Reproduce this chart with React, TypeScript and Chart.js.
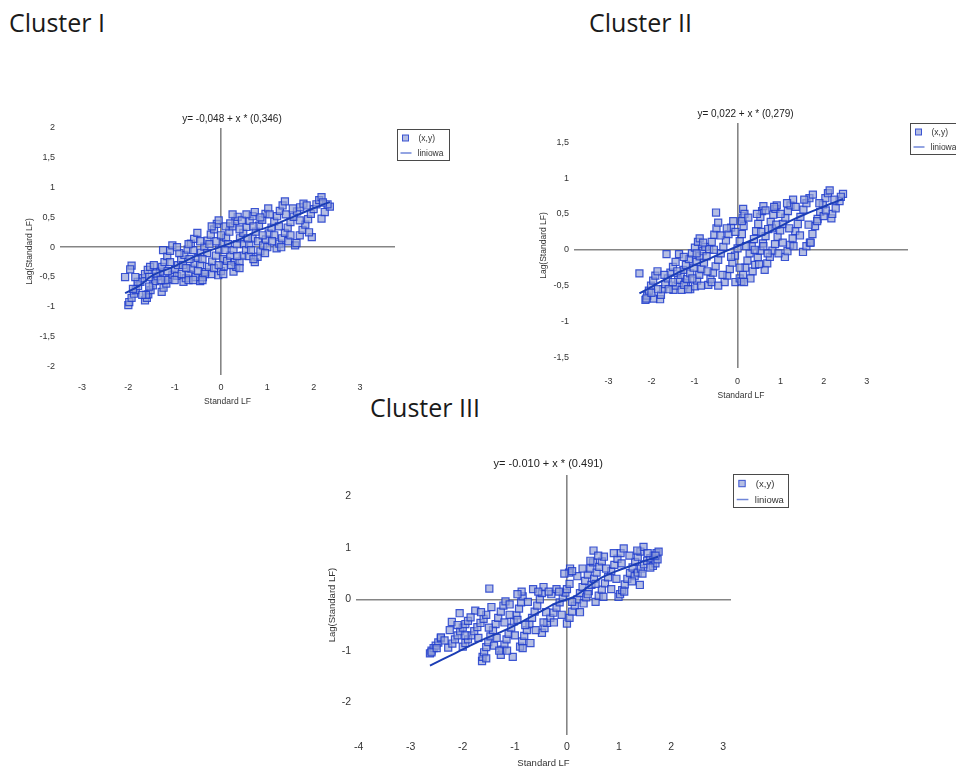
import React, { useEffect, useRef } from "react";
import { Chart, registerables } from "chart.js";

Chart.register(...registerables);

type P = [number, number];

// ---------------- DATA ----------------
const SERIES_LABELS = ["(x,y)", "liniowa"];
const X_TITLE = "Standard LF";
const Y_TITLE = "Lag(Standard LF)";
const HEADINGS = ["Cluster I", "Cluster II", "Cluster III"];

const CLUSTER1_EQUATION = "y= -0,048 + x * (0,346)";
const CLUSTER1_X_TICKS = [-3, -2, -1, 0, 1, 2, 3];
const CLUSTER1_Y_TICKS = [-2, -1.5, -1, -0.5, 0, 0.5, 1, 1.5, 2];
const CLUSTER1_POINTS: P[] = [
  [-2.07, -0.5], [-1.93, -0.31], [-1.96, -0.37],
  [-2.0, -0.97], [-1.98, -0.92], [-1.93, -0.85], [-1.88, -0.78], [-1.84, -0.72], [-1.79, -0.65], [-1.74, -0.58], [-1.69, -0.52], [-1.64, -0.45], [-1.58, -0.38], [-1.53, -0.33], [-1.9, -0.7], [-1.8, -0.58],
  [-1.64, -0.89], [-1.6, -0.85], [-1.57, -0.79], [-1.52, -0.72], [-1.47, -0.64], [-1.42, -0.57], [-1.37, -0.49], [-1.32, -0.41], [-1.27, -0.33], [-1.22, -0.25], [-1.16, -0.15], [-1.1, -0.06], [-1.05, 0.03], [-1.62, -0.8], [-1.55, -0.66], [-1.4, -0.44],
  [-1.28, -0.75], [-1.24, -0.68], [-1.18, -0.61], [-1.12, -0.54], [-1.05, -0.46], [-0.99, -0.38], [-0.93, -0.3], [-0.86, -0.21], [-0.79, -0.13], [-0.72, -0.04], [-0.65, 0.06], [-0.58, 0.14], [-0.51, 0.24], [-1.2, -0.55], [-0.95, -0.48], [-0.82, -0.3], [-0.6, -0.05],
  [-0.81, -0.58], [-0.76, -0.52], [-0.7, -0.45], [-0.64, -0.36], [-0.57, -0.27], [-0.5, -0.18], [-0.43, -0.09], [-0.36, 0.01], [-0.29, 0.11], [-0.22, 0.21], [-0.15, 0.3], [-0.09, 0.39], [-0.05, 0.45], [-0.7, -0.55], [-0.45, -0.3], [-0.3, -0.1],
  [-0.45, -0.57], [-0.39, -0.5], [-0.33, -0.42], [-0.26, -0.33], [-0.19, -0.24], [-0.11, -0.14], [-0.04, -0.04], [0.03, 0.06], [0.11, 0.16], [0.18, 0.26], [0.25, 0.35], [0.31, 0.44], [0.36, 0.51], [-0.2, -0.45], [0.05, -0.2], [0.15, 0.05],
  [-0.06, -0.47], [0.0, -0.4], [0.06, -0.32], [0.13, -0.23], [0.2, -0.14], [0.27, -0.05], [0.34, 0.05], [0.41, 0.15], [0.48, 0.24], [0.55, 0.34], [0.62, 0.44], [0.68, 0.52], [0.73, 0.59], [0.05, -0.45], [0.3, -0.25], [0.5, 0.05],
  [0.27, -0.41], [0.33, -0.33], [0.4, -0.24], [0.47, -0.14], [0.54, -0.05], [0.61, 0.05], [0.68, 0.15], [0.75, 0.26], [0.82, 0.36], [0.89, 0.46], [0.96, 0.56], [1.02, 0.65], [0.6, -0.15], [0.8, 0.1],
  [0.73, -0.25], [0.79, -0.16], [0.85, -0.07], [0.91, 0.03], [0.97, 0.13], [1.03, 0.23], [1.09, 0.33], [1.15, 0.43], [1.21, 0.52], [1.27, 0.61], [1.33, 0.7], [1.38, 0.77], [1.0, 0.0], [1.15, 0.2],
  [1.2, -0.02], [1.26, 0.06], [1.32, 0.15], [1.38, 0.24], [1.44, 0.33], [1.5, 0.42], [1.57, 0.51], [1.64, 0.6], [1.71, 0.67], [1.78, 0.73], [1.45, 0.1],
  [1.6, 0.03], [1.63, 0.07], [1.7, 0.2], [1.76, 0.29], [1.82, 0.38], [1.88, 0.47], [1.94, 0.56], [2.0, 0.64], [2.06, 0.72], [2.12, 0.79], [2.17, 0.84],
  [1.96, 0.17], [2.17, 0.48], [2.24, 0.59], [2.35, 0.68], [2.3, 0.72], [2.2, 0.75],
  [-1.45, -0.3], [-1.3, -0.55], [-1.15, -0.4], [-1.0, -0.55], [-0.9, -0.1], [-0.85, -0.45], [-0.75, -0.35], [-0.68, -0.2], [-0.55, -0.5], [-0.5, -0.4], [-0.4, -0.2], [-0.35, -0.45], [-0.25, 0.05], [-0.15, -0.35], [-0.1, 0.1], [0.0, 0.2], [0.08, -0.05], [0.1, 0.35], [0.2, 0.4], [0.22, -0.3], [0.35, -0.15], [0.4, 0.3], [0.45, 0.45], [0.55, 0.55], [0.58, 0.15], [0.65, -0.05], [0.7, 0.35], [0.85, 0.5], [0.9, 0.2], [0.95, -0.1], [1.05, 0.55], [1.1, 0.1], [1.25, 0.35], [1.3, 0.0], [1.4, 0.55], [1.5, 0.2], [1.55, 0.65], [1.7, 0.45], [1.85, 0.7], [1.9, 0.25], [-1.7, -0.8], [-1.55, -0.5], [-1.85, -0.5], [-1.25, -0.05], [-1.1, -0.25], [-0.95, 0.0], [-0.7, 0.05], [-0.45, 0.1], [-0.2, 0.35], [0.25, 0.55], [-0.6, -0.55], [-0.4, -0.55], [-0.05, -0.3], [0.4, -0.35], [0.7, -0.2],
];
const CLUSTER1_LINE: P[] = [
  [-2.07, -0.77], [-1.75, -0.64], [-1.53, -0.5], [-1.39, -0.44], [-1.03, -0.33], [-0.74, -0.22], [-0.4, -0.1], [0.0, 0.01], [0.4, 0.13], [0.77, 0.27], [1.1, 0.36], [1.56, 0.51], [1.99, 0.65], [2.35, 0.76],
];

const CLUSTER2_EQUATION = "y= 0,022 + x * (0,279)";
const CLUSTER2_X_TICKS = [-3, -2, -1, 0, 1, 2, 3];
const CLUSTER2_Y_TICKS = [-1.5, -1, -0.5, 0, 0.5, 1, 1.5];
const CLUSTER2_POINTS: P[] = [
  [-2.28, -0.33], [-1.65, -0.06], [-1.36, -0.06], [-0.5, 0.52], [-1.95, -0.68], [-1.1, -0.55], [-1.2, -0.46],
  [-2.14, -0.7], [-2.1, -0.64], [-2.06, -0.57], [-2.01, -0.5], [-1.96, -0.43], [-1.91, -0.36], [-1.86, -0.3], [-2.12, -0.68],
  [-1.8, -0.69], [-1.78, -0.63], [-1.73, -0.55], [-1.68, -0.48], [-1.62, -0.4], [-1.56, -0.32], [-1.5, -0.24], [-1.44, -0.17],
  [-1.49, -0.56], [-1.44, -0.5], [-1.38, -0.42], [-1.32, -0.35], [-1.26, -0.28], [-1.2, -0.21], [-1.13, -0.13], [-1.06, -0.05], [-0.99, 0.03], [-0.92, 0.11], [-0.88, 0.16],
  [-1.3, -0.56], [-1.24, -0.49], [-1.17, -0.41], [-1.1, -0.33], [-1.02, -0.25], [-0.95, -0.17], [-0.88, -0.09], [-0.81, -0.02], [-0.75, 0.04],
  [-0.99, -0.51], [-0.94, -0.43], [-0.89, -0.35], [-0.84, -0.27], [-0.78, -0.18], [-0.72, -0.09], [-0.66, 0.01], [-0.6, 0.11], [-0.54, 0.21], [-0.49, 0.3], [-0.45, 0.38],
  [-0.68, -0.49], [-0.63, -0.41], [-0.57, -0.32], [-0.51, -0.23], [-0.45, -0.14], [-0.39, -0.05], [-0.33, 0.04], [-0.27, 0.13], [-0.21, 0.22], [-0.15, 0.31], [-0.1, 0.4],
  [-0.3, -0.45], [-0.24, -0.36], [-0.18, -0.27], [-0.12, -0.18], [-0.06, -0.08], [0.0, 0.02], [0.05, 0.12], [0.1, 0.22], [0.14, 0.33], [0.12, 0.45], [0.13, 0.57], [0.16, 0.5], [-0.05, -0.45], [0.05, -0.4],
  [0.09, -0.44], [0.13, -0.35], [0.18, -0.25], [0.23, -0.15], [0.28, -0.05], [0.33, 0.05], [0.38, 0.15], [0.43, 0.26], [0.48, 0.36], [0.53, 0.46], [0.57, 0.54], [0.6, 0.61],
  [0.35, -0.3], [0.41, -0.21], [0.47, -0.11], [0.53, -0.01], [0.59, 0.09], [0.65, 0.19], [0.71, 0.29], [0.77, 0.39], [0.83, 0.49], [0.88, 0.57], [0.91, 0.62],
  [0.63, -0.28], [0.69, -0.19], [0.75, -0.1], [0.81, -0.01], [0.87, 0.08], [0.93, 0.18], [0.99, 0.27], [1.05, 0.36], [1.11, 0.45], [1.17, 0.54], [1.23, 0.62], [1.29, 0.7],
  [1.1, -0.1], [1.16, -0.02], [1.22, 0.07], [1.28, 0.16], [1.34, 0.26], [1.4, 0.36], [1.46, 0.46], [1.53, 0.56], [1.6, 0.65], [1.67, 0.72], [1.75, 0.77],
  [1.52, -0.03], [1.6, 0.05], [1.68, 0.1], [1.74, 0.22], [1.8, 0.33], [1.86, 0.43], [1.92, 0.53], [1.98, 0.63], [2.04, 0.72], [2.1, 0.79], [2.14, 0.83],
  [2.18, 0.44], [2.2, 0.5], [2.28, 0.58], [2.37, 0.68], [2.45, 0.78], [2.4, 0.74], [1.85, 0.4], [2.0, 0.47],
  [-2.0, -0.6], [-1.7, -0.35], [-1.6, -0.55], [-1.4, -0.3], [-1.25, -0.1], [-1.15, -0.55], [-1.05, -0.4], [-0.95, -0.05], [-0.85, -0.5], [-0.8, 0.1], [-0.7, -0.3], [-0.6, -0.45], [-0.55, 0.0], [-0.4, 0.2], [-0.35, -0.35], [-0.25, 0.3], [-0.15, -0.1], [-0.05, 0.25], [0.05, -0.25], [0.1, 0.4], [0.2, 0.05], [0.25, 0.45], [0.3, -0.4], [0.4, 0.0], [0.45, 0.5], [0.5, -0.2], [0.55, 0.25], [0.65, 0.55], [0.7, -0.05], [0.8, 0.3], [0.85, 0.6], [0.95, -0.05], [1.0, 0.5], [1.05, 0.1], [1.15, 0.65], [1.2, 0.3], [1.3, 0.05], [1.35, 0.6], [1.45, 0.2], [1.55, 0.7], [1.65, 0.35], [1.7, 0.1], [1.9, 0.65], [2.05, 0.55], [2.25, 0.7], [-1.85, -0.55], [-1.5, -0.45], [-0.45, -0.5], [0.15, -0.45], [0.6, 0.05], [0.9, 0.35],
];
const CLUSTER2_LINE: P[] = [
  [-2.28, -0.61], [-1.95, -0.5], [-1.49, -0.35], [-1.1, -0.24], [-0.72, -0.14], [-0.35, -0.04], [0.0, 0.05], [0.35, 0.14], [0.67, 0.23], [1.0, 0.33], [1.29, 0.42], [1.58, 0.5], [1.83, 0.56], [2.15, 0.64], [2.45, 0.71],
];

const CLUSTER3_EQUATION = "y= -0.010 + x * (0.491)";
const CLUSTER3_X_TICKS = [-4, -3, -2, -1, 0, 1, 2, 3];
const CLUSTER3_Y_TICKS = [-2, -1, 0, 1, 2];
const CLUSTER3_POINTS: P[] = [
  [-2.63, -1.05], [-2.6, -1.0], [-2.56, -0.95], [-2.52, -0.9], [-2.47, -0.84], [-2.42, -0.76], [-2.6, -1.03],
  [-2.28, -0.94], [-2.2, -0.86], [-2.15, -0.78], [-2.1, -0.7], [-2.05, -0.62], [-2.0, -0.55], [-1.95, -0.48], [-1.9, -0.42],
  [-2.0, -0.92], [-1.95, -0.85], [-1.9, -0.78], [-1.84, -0.7], [-1.78, -0.62], [-1.72, -0.54], [-1.66, -0.46], [-1.6, -0.38], [-1.55, -0.3],
  [-1.63, -1.2], [-1.62, -1.12], [-1.59, -1.03], [-1.55, -0.93], [-1.51, -0.83], [-1.47, -0.72], [-1.42, -0.6], [-1.37, -0.48], [-1.32, -0.36], [-1.27, -0.24], [-1.22, -0.12], [-1.18, -0.04],
  [-1.27, -1.08], [-1.24, -0.98], [-1.2, -0.88], [-1.16, -0.78], [-1.12, -0.67], [-1.07, -0.55], [-1.02, -0.43], [-0.97, -0.31], [-0.92, -0.18], [-0.88, -0.06], [-0.85, 0.06],
  [-0.9, -0.92], [-0.86, -0.82], [-0.82, -0.71], [-0.77, -0.6], [-0.72, -0.48], [-0.67, -0.36], [-0.62, -0.24], [-0.57, -0.12], [-0.52, 0.0], [-0.48, 0.12], [-0.45, 0.24],
  [-0.48, -0.65], [-0.43, -0.56], [-0.38, -0.46], [-0.32, -0.36], [-0.26, -0.26], [-0.2, -0.16], [-0.14, -0.06], [-0.08, 0.04], [-0.03, 0.13], [0.0, 0.2],
  [0.0, -0.47], [0.05, -0.36], [0.1, -0.24], [0.15, -0.12], [0.2, 0.0], [0.25, 0.12], [0.3, 0.24], [0.35, 0.36], [0.4, 0.48], [0.45, 0.6], [0.5, 0.72],
  [0.32, -0.08], [0.37, 0.04], [0.42, 0.16], [0.47, 0.28], [0.52, 0.4], [0.57, 0.52], [0.62, 0.63], [0.67, 0.74], [0.71, 0.83],
  [0.55, -0.05], [0.61, 0.07], [0.67, 0.19], [0.73, 0.31], [0.79, 0.43], [0.85, 0.55], [0.91, 0.67], [0.97, 0.79], [1.03, 0.9], [1.09, 0.99],
  [0.99, 0.05], [1.02, 0.1], [1.06, 0.18], [1.11, 0.29], [1.16, 0.4], [1.21, 0.51], [1.26, 0.62], [1.31, 0.73], [1.36, 0.83], [1.41, 0.93], [1.47, 1.02],
  [1.3, 0.45], [1.36, 0.52], [1.42, 0.6], [1.48, 0.68], [1.54, 0.75], [1.6, 0.8], [1.66, 0.85], [1.72, 0.9], [1.76, 0.93],
  [-1.49, 0.21], [-1.76, -0.22], [-2.06, -0.27], [-2.21, -0.44], [-2.42, -0.74], [-1.04, -1.12], [0.51, 0.95], [1.4, 0.28], [0.06, 0.6], [0.04, 0.52], [-0.87, 0.15], [-0.65, 0.2], [-0.3, 0.1], [-0.2, 0.2], [1.65, 0.65], [1.7, 0.7], [1.74, 0.78], [-1.1, -0.3], [-0.95, -0.4], [-1.4, -0.9],
  [-2.5, -0.95], [-2.35, -0.8], [-2.25, -0.6], [-2.1, -0.5], [-1.95, -0.7], [-1.85, -0.35], [-1.7, -0.75], [-1.65, -0.25], [-1.5, -0.55], [-1.45, -0.15], [-1.35, -0.75], [-1.3, -1.0], [-1.2, -0.45], [-1.1, -0.1], [-1.0, -0.7], [-0.95, 0.1], [-0.8, -0.5], [-0.75, -0.05], [-0.7, -0.85], [-0.6, -0.6], [-0.55, 0.15], [-0.4, -0.25], [-0.35, 0.15], [-0.25, -0.45], [-0.15, 0.15], [-0.1, -0.3], [0.05, 0.3], [0.1, -0.05], [0.2, 0.45], [0.25, -0.25], [0.3, 0.6], [0.4, 0.1], [0.45, 0.75], [0.55, 0.3], [0.6, 0.85], [0.7, 0.05], [0.75, 0.6], [0.85, 0.2], [0.9, 0.9], [0.95, 0.4], [1.05, 0.7], [1.1, 0.15], [1.2, 0.85], [1.25, 0.35], [1.35, 0.95], [1.45, 0.5], [1.55, 0.9], [1.6, 0.62], [1.7, 0.85], [-1.55, -1.15], [-1.15, -1.0], [-0.85, -0.95], [-0.45, -0.45], [0.1, 0.55], [-0.05, 0.5],
];
const CLUSTER3_LINE: P[] = [
  [-2.63, -1.29], [-2.15, -1.05], [-1.63, -0.79], [-1.19, -0.6], [-0.8, -0.4], [-0.51, -0.24], [-0.2, -0.07], [0.13, 0.05], [0.4, 0.24], [0.64, 0.41], [0.95, 0.55], [1.28, 0.67], [1.5, 0.75], [1.75, 0.83],
];

// ---------------- STYLE / LAYOUT ----------------
const AXIS_COLOR = "#858585";
const TEXT_COLOR = "#333333";
const POINT_FILL = "rgba(150,163,215,0.7)";
const POINT_BORDER = "rgba(30,60,205,0.85)";
const LINE_COLOR = "#1b3db5";
const FONT = '"Liberation Sans", Arial, sans-serif';

interface PanelCfg {
  left: number; top: number; w: number; h: number;
  pad: { left: number; top: number; right: number; bottom: number };
  yW: number; xH: number;
  xMin: number; xMax: number; yMin: number; yMax: number;
  xTicks: number[]; yTicks: number[]; comma: boolean;
  tickSize: number; titleSize: number; xTickPad: number; yTickPad: number;
  xTitlePad: number; yTitlePad: number;
  equation: string; eqSize: number; eqDx: number; eqDy: number;
  lgDx: number; lgDy: number; lgW: number; lgH: number; lgSize: number;
  points: P[]; line: P[];
}

const PANELS: PanelCfg[] = [
  {
    left: 0, top: 100, w: 460, h: 320,
    pad: { left: 24, top: 28, right: 65, bottom: 11 }, yW: 36, xH: 34,
    xMin: -3.475, xMax: 3.756, yMin: -2.144, yMax: 2.0,
    xTicks: CLUSTER1_X_TICKS, yTicks: CLUSTER1_Y_TICKS, comma: true,
    tickSize: 9, titleSize: 8.5, xTickPad: 7, yTickPad: 5, xTitlePad: 1.9, yTitlePad: 0.9,
    equation: CLUSTER1_EQUATION, eqSize: 10, eqDx: 4.5, eqDy: 9,
    lgDx: 2, lgDy: 1, lgW: 52, lgH: 31, lgSize: 8.5,
    points: CLUSTER1_POINTS, line: CLUSTER1_LINE,
  },
  {
    left: 510, top: 95, w: 446, h: 320,
    pad: { left: 28, top: 28, right: 48, bottom: 13 }, yW: 36, xH: 34,
    xMin: -3.8, xMax: 3.96, yMin: -1.65, yMax: 1.77,
    xTicks: CLUSTER2_X_TICKS, yTicks: CLUSTER2_Y_TICKS, comma: true,
    tickSize: 9, titleSize: 8.5, xTickPad: 8.6, yTickPad: 5, xTitlePad: 1.6, yTitlePad: 0.3,
    equation: CLUSTER2_EQUATION, eqSize: 10, eqDx: 4.5, eqDy: 9,
    lgDx: 2, lgDy: 0, lgW: 56, lgH: 31, lgSize: 8.5,
    points: CLUSTER2_POINTS, line: CLUSTER2_LINE,
  },
  {
    left: 300, top: 445, w: 520, h: 324,
    pad: { left: 27, top: 30, right: 89, bottom: 0 }, yW: 29, xH: 34,
    xMin: -4.05, xMax: 3.15, yMin: -2.64, yMax: 2.42,
    xTicks: CLUSTER3_X_TICKS, yTicks: CLUSTER3_Y_TICKS, comma: false,
    tickSize: 10.5, titleSize: 9.5, xTickPad: 5.7, yTickPad: 5, xTitlePad: 0.3, yTitlePad: 0,
    equation: CLUSTER3_EQUATION, eqSize: 11, eqDx: 4.8, eqDy: 10.7,
    lgDx: 2, lgDy: -1, lgW: 55, lgH: 33, lgSize: 9.5,
    points: CLUSTER3_POINTS, line: CLUSTER3_LINE,
  },
];

const annotPlugin = {
  id: "annot",
  afterDraw(chart: any, _args: any, opts: any) {
    const { ctx, chartArea: a } = chart;
    ctx.save();
    ctx.fillStyle = "#222";
    ctx.font = `${opts.eqSize}px ${FONT}`;
    ctx.textAlign = "center";
    ctx.textBaseline = "middle";
    ctx.fillText(opts.equation, (a.left + a.right) / 2 + opts.eqDx, a.top - opts.eqDy);

    const bx = Math.round(a.right + opts.lgDx) + 0.5;
    const by = Math.round(a.top + opts.lgDy) + 0.5;
    const s = opts.lgH / 31;
    ctx.fillStyle = "#ffffff";
    ctx.fillRect(bx, by, opts.lgW, opts.lgH);
    ctx.strokeStyle = "#4a4a4a";
    ctx.lineWidth = 1;
    ctx.strokeRect(bx, by, opts.lgW, opts.lgH);

    const ds = chart.data.datasets;
    const r1 = by + 8.5 * s;
    const r2 = by + 23.5 * s;
    const sq = 6 * s;
    ctx.fillStyle = ds[0].backgroundColor;
    ctx.strokeStyle = ds[0].borderColor;
    ctx.fillRect(bx + 8 * s - sq / 2, r1 - sq / 2, sq, sq);
    ctx.strokeRect(bx + 8 * s - sq / 2, r1 - sq / 2, sq, sq);
    ctx.strokeStyle = "#6f86d8";
    ctx.lineWidth = 1.5;
    ctx.beginPath();
    ctx.moveTo(bx + 3 * s, r2);
    ctx.lineTo(bx + 14 * s, r2);
    ctx.stroke();
    ctx.fillStyle = TEXT_COLOR;
    ctx.font = `${opts.lgSize}px ${FONT}`;
    ctx.textAlign = "left";
    ctx.fillText(ds[0].label, bx + 21 * s, r1 + 0.5);
    ctx.fillText(ds[1].label, bx + 20 * s, r2 + 0.5);
    ctx.restore();
  },
};

function fmt(v: number, comma: boolean) {
  const t = String(Math.round(v * 100) / 100);
  return comma ? t.replace(".", ",") : t;
}

function Panel({ cfg }: { cfg: PanelCfg }) {
  const ref = useRef<HTMLCanvasElement>(null);
  useEffect(() => {
    if (!ref.current) return;
    const gridColor = (c: any) => (c.tick && c.tick.value === 0 ? AXIS_COLOR : "rgba(0,0,0,0)");
    const chart = new Chart(ref.current, {
      type: "scatter",
      data: {
        datasets: [
          {
            type: "scatter",
            label: SERIES_LABELS[0],
            data: cfg.points.map(([x, y]) => ({ x, y })),
            pointStyle: "rect",
            pointRadius: 5,
            pointBackgroundColor: POINT_FILL,
            pointBorderColor: POINT_BORDER,
            pointBorderWidth: 1.2,
            backgroundColor: POINT_FILL,
            borderColor: POINT_BORDER,
            order: 2,
          } as any,
          {
            type: "line",
            label: SERIES_LABELS[1],
            data: cfg.line.map(([x, y]) => ({ x, y })),
            borderColor: LINE_COLOR,
            backgroundColor: LINE_COLOR,
            borderWidth: 2,
            pointRadius: 0,
            tension: 0.35,
            fill: false,
            order: 1,
          } as any,
        ],
      },
      options: {
        animation: false,
        responsive: false,
        maintainAspectRatio: false,
        events: [],
        layout: { padding: cfg.pad },
        plugins: {
          legend: { display: false },
          title: { display: false },
          tooltip: { enabled: false },
          annot: {
            equation: cfg.equation, eqSize: cfg.eqSize, eqDx: cfg.eqDx, eqDy: cfg.eqDy,
            lgDx: cfg.lgDx, lgDy: cfg.lgDy, lgW: cfg.lgW, lgH: cfg.lgH, lgSize: cfg.lgSize,
          },
        } as any,
        scales: {
          x: {
            type: "linear",
            min: cfg.xMin,
            max: cfg.xMax,
            afterBuildTicks: (s: any) => { s.ticks = cfg.xTicks.map((v) => ({ value: v })); },
            afterFit: (s: any) => { s.height = cfg.xH; },
            grid: { color: gridColor, lineWidth: 1.6, drawTicks: false },
            border: { display: false },
            ticks: {
              padding: cfg.xTickPad, autoSkip: false, maxRotation: 0,
              color: TEXT_COLOR, font: { family: FONT, size: cfg.tickSize },
              callback: (v: any) => fmt(Number(v), cfg.comma),
            },
            title: {
              display: true, text: X_TITLE, color: TEXT_COLOR,
              font: { family: FONT, size: cfg.titleSize },
              padding: { top: 0, bottom: cfg.xTitlePad },
            },
          },
          y: {
            type: "linear",
            min: cfg.yMin,
            max: cfg.yMax,
            afterBuildTicks: (s: any) => { s.ticks = cfg.yTicks.map((v) => ({ value: v })); },
            afterFit: (s: any) => { s.width = cfg.yW; },
            grid: { color: gridColor, lineWidth: 1.6, drawTicks: false },
            border: { display: false },
            ticks: {
              padding: cfg.yTickPad, autoSkip: false,
              color: TEXT_COLOR, font: { family: FONT, size: cfg.tickSize },
              callback: (v: any) => fmt(Number(v), cfg.comma),
            },
            title: {
              display: true, text: Y_TITLE, color: TEXT_COLOR,
              font: { family: FONT, size: cfg.titleSize },
              padding: { top: cfg.yTitlePad, bottom: 0 },
            },
          },
        },
      } as any,
      plugins: [annotPlugin as any],
    });
    return () => chart.destroy();
  }, [cfg]);
  return (
    <canvas
      ref={ref}
      width={cfg.w}
      height={cfg.h}
      style={{ position: "absolute", left: cfg.left, top: cfg.top, width: cfg.w, height: cfg.h }}
    />
  );
}

const HEADING_POS = [
  { left: 9, top: 10 },
  { left: 589, top: 10 },
  { left: 370, top: 395 },
];

export default function App() {
  return (
    <div style={{ position: "absolute", left: 0, top: 0, width: 956, height: 769, background: "#fff", overflow: "hidden" }}>
      {HEADINGS.map((h, i) => (
        <div
          key={h}
          style={{
            position: "absolute",
            left: HEADING_POS[i].left,
            top: HEADING_POS[i].top,
            fontFamily: '"Open Sans", sans-serif',
            fontSize: 25,
            lineHeight: 1,
            color: "#1a1a1a",
            whiteSpace: "nowrap",
          }}
        >
          {h}
        </div>
      ))}
      {PANELS.map((p, i) => (
        <Panel key={i} cfg={p} />
      ))}
    </div>
  );
}
